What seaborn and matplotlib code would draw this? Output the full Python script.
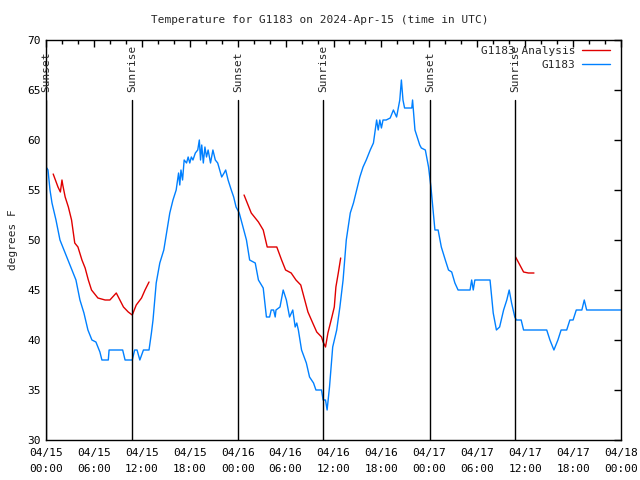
import pandas as pd
import numpy as np
import seaborn as sns
import matplotlib.pyplot as plt
import matplotlib.dates as mdates
from matplotlib.lines import Line2D

start = pd.Timestamp('2024-04-15 00:00')

# observed temperature (hours after start, degrees F)
obs_hours = [0.1, 0.25, 0.5, 0.75, 1.25, 1.75, 2.25, 2.75, 3.25, 3.75, 4.25, 4.75,
             5.25, 5.75, 6.25, 6.75, 7.0, 7.8, 7.9, 9.6, 9.9, 10.8, 11.1, 11.4, 11.75,
             12.2, 12.9, 13.2, 13.4, 13.8, 14.25, 14.75, 15.1, 15.5, 15.9, 16.3, 16.6,
             16.75, 16.9, 17.1, 17.3, 17.6, 17.8, 18.0, 18.2, 18.4, 18.7, 19.0, 19.2,
             19.35, 19.5, 19.7, 19.9, 20.1, 20.3, 20.6, 20.9, 21.2, 21.5, 21.75, 22.0,
             22.3, 22.5, 22.8, 23.2, 23.5, 23.8, 24.2, 24.7, 25.1, 25.5, 26.2, 26.6,
             27.2, 27.6, 28.0, 28.2, 28.5, 28.7, 28.8, 29.3, 29.7, 30.1, 30.5, 30.9,
             31.2, 31.4, 31.6, 32.0, 32.6, 33.0, 33.5, 33.8, 34.5, 34.7, 35.0, 35.2,
             35.5, 35.9, 36.4, 36.8, 37.2, 37.6, 38.1, 38.5, 38.9, 39.3, 39.7, 40.1,
             40.6, 41.0, 41.4, 41.6, 41.8, 42.0, 42.2, 42.6, 43.1, 43.5, 43.9, 44.3,
             44.5, 44.7, 44.9, 45.8, 45.9, 46.2, 46.8, 47.0, 47.5, 47.9, 48.2, 48.5,
             48.7, 49.1, 49.5, 50.0, 50.4, 50.8, 51.2, 51.6, 53.1, 53.3, 53.5, 53.7,
             55.6, 56.0, 56.4, 56.8, 57.3, 57.7, 58.0, 58.3, 58.7, 58.9, 59.5, 59.8,
             62.7, 63.1, 63.6, 64.1, 64.5, 65.2, 65.6, 66.0, 66.4, 67.1, 67.4, 67.7,
             72.0]
obs_temp = [57.2, 57.0, 55.0, 53.7, 52.0, 50.0, 49.0, 48.0, 47.0, 46.0, 44.0, 42.7,
            41.0, 40.0, 39.8, 38.8, 38.0, 38.0, 39.0, 39.0, 38.0, 38.0, 39.0, 39.0, 38.0,
            39.0, 39.0, 40.7, 42.0, 45.7, 47.7, 49.0, 50.7, 52.7, 54.0, 55.0, 56.7,
            55.5, 57.0, 56.0, 58.0, 57.7, 58.3, 57.7, 58.3, 58.0, 58.7, 59.0, 60.0,
            58.0, 59.5, 57.7, 59.3, 58.3, 59.0, 57.7, 59.0, 58.0, 57.7, 57.0, 56.3,
            56.7, 57.0, 56.0, 55.0, 54.3, 53.3, 52.7, 51.2, 50.0, 48.0, 47.7, 46.0,
            45.2, 42.3, 42.3, 43.0, 43.0, 42.3, 43.0, 43.3, 45.0, 44.0, 42.3, 43.0,
            41.3, 41.7, 41.0, 39.0, 37.7, 36.3, 35.7, 35.0, 35.0, 34.0, 34.0, 33.0,
            35.3, 39.3, 41.0, 43.3, 46.0, 50.0, 52.7, 53.7, 55.0, 56.3, 57.3, 58.0,
            59.0, 59.7, 62.0, 61.0, 62.0, 61.2, 62.0, 62.0, 62.2, 63.0, 62.3, 64.0,
            66.0, 64.0, 63.2, 63.2, 64.0, 61.0, 59.5, 59.2, 59.0, 57.3, 55.3, 52.7,
            51.0, 51.0, 49.3, 48.0, 47.0, 46.8, 45.7, 45.0, 45.0, 46.0, 45.0, 46.0,
            46.0, 42.7, 41.0, 41.3, 43.0, 44.0, 45.0, 43.7, 42.3, 42.0, 42.0, 41.0,
            41.0, 40.0, 39.0, 40.0, 41.0, 41.0, 42.0, 42.0, 43.0, 43.0, 44.0, 43.0,
            43.0]

# analysis segments
ana1_hours = [0.9, 1.5, 1.8, 2.0, 2.1, 2.4, 2.8, 3.2, 3.6, 4.0, 4.5, 4.9, 5.3, 5.7,
              6.5, 7.4, 8.0, 8.8, 9.7, 10.3, 10.8, 11.3, 11.96, 12.4, 12.9]
ana1_temp = [56.6, 55.3, 54.8, 56.0, 55.5, 54.3, 53.3, 52.0, 49.7, 49.3, 48.0, 47.2,
             46.0, 45.0, 44.2, 44.0, 44.0, 44.7, 43.3, 42.8, 42.5, 43.5, 44.2, 45.0, 45.8]
ana2_hours = [24.8, 25.3, 25.7, 26.6, 27.2, 27.7, 28.9, 29.5, 30.0, 30.7, 31.3, 31.9,
              32.4, 32.8, 33.4, 33.9, 34.5, 34.7, 35.0, 35.3, 35.8, 36.1, 36.3, 36.6, 36.9]
ana2_temp = [54.5, 53.5, 52.7, 51.8, 51.0, 49.3, 49.3, 48.0, 47.0, 46.7, 46.0, 45.5,
             44.0, 42.8, 41.7, 40.8, 40.3, 39.8, 39.3, 40.7, 42.3, 43.3, 45.3, 46.7, 48.2]
ana3_hours = [58.8, 59.8, 60.4, 61.1]
ana3_temp = [48.3, 46.8, 46.7, 46.7]

sunsets = ['2024-04-15 00:01', '2024-04-16 00:03', '2024-04-17 00:04']
sunrises = ['2024-04-15 10:46', '2024-04-16 10:42', '2024-04-17 10:44']

sns.set_theme(style='white')
plt.rcParams['font.family'] = ['DejaVu Sans Mono']
plt.rcParams['font.size'] = 8

obs = pd.DataFrame({'time': start + pd.to_timedelta(obs_hours, unit='h'), 'temp': obs_temp})

fig = plt.figure(figsize=(6.4, 4.8), dpi=100)
ax = fig.add_axes([46 / 640, 40 / 480, 575 / 640, 400 / 480])

red = '#e00000'
blue = '#0080ff'
for hrs, tmp in [(ana1_hours, ana1_temp), (ana2_hours, ana2_temp), (ana3_hours, ana3_temp)]:
    seg = pd.DataFrame({'time': start + pd.to_timedelta(hrs, unit='h'), 'temp': tmp})
    sns.lineplot(data=seg, x='time', y='temp', color=red, lw=1, ax=ax)
sns.lineplot(data=obs, x='time', y='temp', color=blue, lw=1, ax=ax)

for lbl, times in [('Sunset', sunsets), ('Sunrise', sunrises)]:
    for t in times:
        ts = pd.Timestamp(t)
        ax.axvline(ts, ymin=0, ymax=0.85, color='black', lw=1)
        ax.text(ts, 0.87, lbl, transform=ax.get_xaxis_transform(), rotation=90,
                ha='center', va='bottom', fontsize=8, clip_on=False)

ax.set_xlim(start, start + pd.Timedelta(hours=72))
ax.set_ylim(30, 70)
ax.set_yticks(np.arange(30, 71, 5))
ax.xaxis.set_major_locator(mdates.HourLocator(byhour=[0, 6, 12, 18]))
ax.xaxis.set_minor_locator(mdates.HourLocator(interval=2))
ax.xaxis.set_major_formatter(mdates.DateFormatter('%m/%d\n%H:%M'))
ax.tick_params(axis='both', which='both', direction='in', top=True, right=True,
               colors='black', labelsize=8)
ax.tick_params(which='major', length=5, width=1)
ax.tick_params(which='minor', length=3, width=1)
ax.tick_params(axis='x', pad=6)
fig.canvas.draw()
for lab in ax.get_xticklabels():
    lab.set_linespacing(1.75)
for s in ax.spines.values():
    s.set_color('black')
    s.set_linewidth(1)

ax.set_xlabel('')
ax.set_ylabel('degrees F', fontsize=8, labelpad=7)
fig.text(0.5, 1 - 20 / 480, 'Temperature for G1183 on 2024-Apr-15 (time in UTC)',
         ha='center', va='center', fontsize=8)

handles = [Line2D([], [], color=red, lw=1), Line2D([], [], color=blue, lw=1)]
ax.legend(handles, ['G1183 Analysis', 'G1183'], loc='upper right', frameon=False,
          markerfirst=False, fontsize=8, handlelength=2.5, borderpad=0,
          borderaxespad=0, bbox_to_anchor=(1 - 11 / 575, 1 - 6 / 400),
          labelspacing=0.35, handletextpad=0.6)

fig.savefig('out.png', dpi=100)
